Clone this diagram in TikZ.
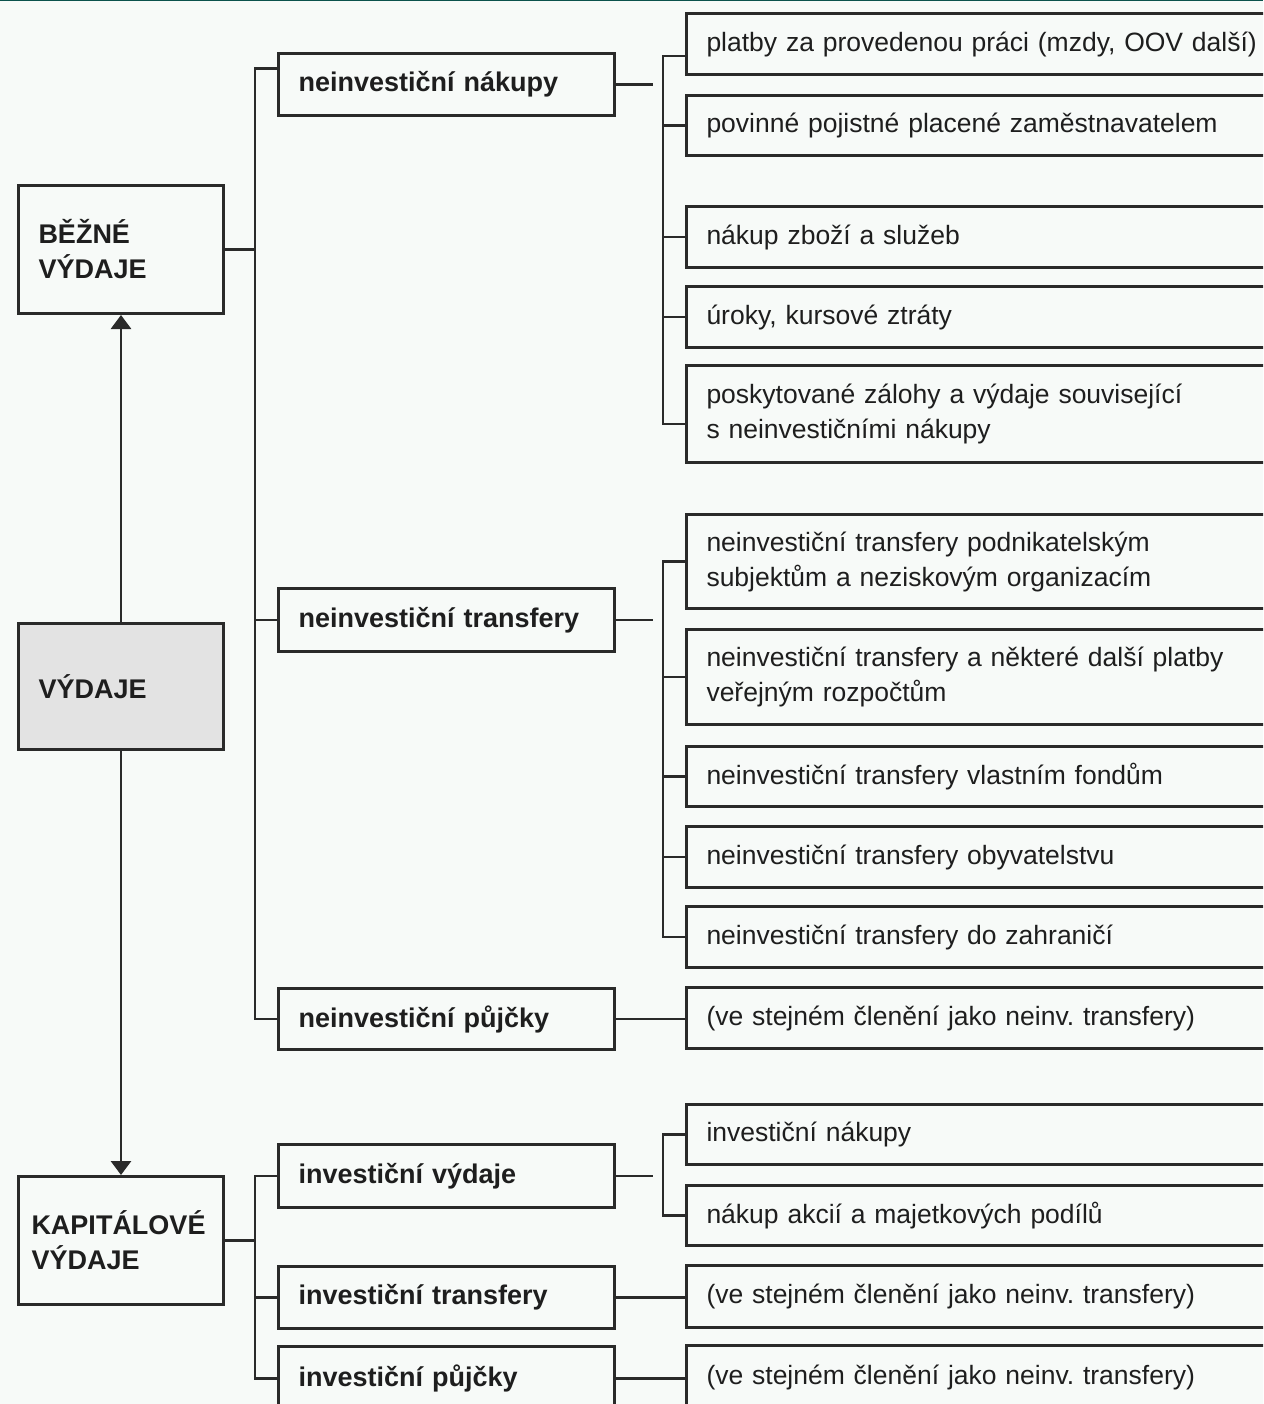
\documentclass[tikz,border=0pt]{standalone}
\usepackage{fontspec}
\setmainfont{Liberation Sans}
\usepackage{xcolor}
\usetikzlibrary{arrows.meta}
\definecolor{bgcol}{HTML}{F7FAF8}
\definecolor{topline}{HTML}{0B524C}
\definecolor{framecol}{HTML}{2A2A2A}
\definecolor{graybox}{HTML}{E3E3E3}
\definecolor{textcol}{HTML}{1E1E1E}
\frenchspacing
\begin{document}
\begin{tikzpicture}[x=1pt,y=-1pt,
  box/.style={draw=framecol,line width=3pt,fill=bgcol,text=textcol,anchor=north west,align=left,
    inner xsep=20pt,inner ysep=0pt,font=\fontsize{26.5pt}{35pt}\selectfont},
  leftbox/.style={box,font=\fontsize{27pt}{35pt}\selectfont\bfseries,text width=165pt,minimum height=128pt},
  midbox/.style={box,font=\fontsize{27pt}{35pt}\selectfont\bfseries,text width=296pt,minimum height=62pt},
  itembox/.style={box,text width=600pt,minimum height=#1},
  itembox/.default=61pt,
  conn/.style={draw=framecol,line width=2.8pt},
  arr/.style={conn,-{Triangle[width=20pt,length=14pt]}}]
\useasboundingbox (0,0) rectangle (1263,1404);
\fill[bgcol] (0,0) rectangle (1263,1404);
\clip (0,0) rectangle (1263,1404);
\draw[topline,line width=2pt] (0,0) -- (1263,0);

\node[leftbox] (bezne) at (17,184) {BĚŽNÉ\\VÝDAJE};
\node[leftbox,fill=graybox,minimum height=126pt] (vydaje) at (17,622) {VÝDAJE};
\node[leftbox,inner xsep=13pt,text width=179pt] (kapital) at (17,1175) {KAPITÁLOVÉ\\VÝDAJE};

\node[midbox] (nnakupy) at (277,52) {neinvestiční nákupy};
\node[midbox,minimum height=63pt] (ntransfery) at (277,587) {neinvestiční transfery};
\node[midbox,minimum height=61pt] (npujcky) at (277,987) {neinvestiční půjčky};
\node[midbox,minimum height=63pt] (ivydaje) at (277,1143) {investiční výdaje};
\node[midbox] (itransfery) at (277,1265) {investiční transfery};
\node[midbox,minimum height=64pt] (ipujcky) at (277,1345) {investiční půjčky};

\node[itembox] (p1) at (685,12) {platby za provedenou práci (mzdy, OOV další)};
\node[itembox=60pt] (p2) at (685,94) {povinné pojistné placené zaměstnavatelem};
\node[itembox] (p3) at (685,205) {nákup zboží a služeb};
\node[itembox] (p4) at (685,285) {úroky, kursové ztráty};
\node[itembox=97pt] (p5) at (685,364) {poskytované zálohy a výdaje související\\s neinvestičními nákupy};
\node[itembox=94pt] (t1) at (685,513) {neinvestiční transfery podnikatelským\\subjektům a neziskovým organizacím};
\node[itembox=95pt] (t2) at (685,628) {neinvestiční transfery a některé další platby\\veřejným rozpočtům};
\node[itembox=60pt] (t3) at (685,745) {neinvestiční transfery vlastním fondům};
\node[itembox] (t4) at (685,825) {neinvestiční transfery obyvatelstvu};
\node[itembox] (t5) at (685,905) {neinvestiční transfery do zahraničí};
\node[itembox] (s1) at (685,986) {(ve stejném členění jako neinv. transfery)};
\node[itembox=60pt] (i1) at (685,1103) {investiční nákupy};
\node[itembox=60pt] (i2) at (685,1184) {nákup akcií a majetkových podílů};
\node[itembox=62pt] (s2) at (685,1264) {(ve stejném členění jako neinv. transfery)};
\node[itembox=64pt] (s3) at (685,1344) {(ve stejném členění jako neinv. transfery)};

\coordinate (ltrunk) at (255,0);
\coordinate (rtrunk) at (663,0);
\coordinate (rgap) at (653,0);
\coordinate (nbranch) at ([yshift=16pt]nnakupy.west);
\coordinate (ptop) at ([yshift=-12pt]p1.west);
\coordinate (pbot) at ([yshift=-10pt]p5.west);

\draw[arr] (vydaje.north) -- (bezne.south);
\draw[arr] (vydaje.south) -- (kapital.north);

\draw[conn] (bezne.east) -- (bezne.east -| ltrunk);
\draw[conn] (nbranch) -| (ltrunk |- npujcky.west) -- (npujcky.west);
\draw[conn] (ntransfery.west) -- (ntransfery.west -| ltrunk);
\draw[conn] (kapital.east) -- (kapital.east -| ltrunk);
\draw[conn] (ivydaje.west) -| (ltrunk |- ipujcky.west) -- (ipujcky.west);
\draw[conn] (itransfery.west) -- (itransfery.west -| ltrunk);

\draw[conn] (nnakupy.east) -- (nnakupy.east -| rgap);
\draw[conn] (ptop) -| (rtrunk |- pbot) -- (pbot);
\foreach \n in {p2,p3,p4}
  \draw[conn] (\n.west) -- (\n.west -| rtrunk);
\draw[conn] (ntransfery.east) -- (ntransfery.east -| rgap);
\draw[conn] (t1.west) -| (rtrunk |- t5.west) -- (t5.west);
\foreach \n in {t2,t3,t4}
  \draw[conn] (\n.west) -- (\n.west -| rtrunk);
\draw[conn] (npujcky.east) -- (npujcky.east -| s1.west);
\draw[conn] (ivydaje.east) -- (ivydaje.east -| rgap);
\draw[conn] (i1.west) -| (rtrunk |- i2.west) -- (i2.west);
\draw[conn] (itransfery.east) -- (itransfery.east -| s2.west);
\draw[conn] (ipujcky.east) -- (ipujcky.east -| s3.west);
\end{tikzpicture}
\end{document}
